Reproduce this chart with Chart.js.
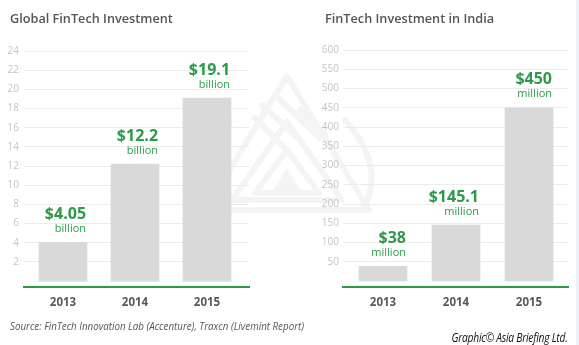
<!DOCTYPE html>
<html>
<head>
<meta charset="utf-8">
<script src="https://cdn.jsdelivr.net/npm/chart.js@4/dist/chart.umd.min.js"></script>
<style>
  html, body { margin: 0; padding: 0; background: #fff; }
  #page { position: relative; width: 579px; height: 345px; overflow: hidden; background: #fff; font-family: "Open Sans", sans-serif; }
  #mark { position: absolute; left: 0; top: 0; }
  .box { position: absolute; top: 40px; }
  .title { position: absolute; top: 9px; font-size: 12.7px; font-weight: 600; color: #555; white-space: nowrap; }
  .fit { position: absolute; white-space: nowrap; font-style: italic; }
  #source { left: 10px; top: 318px; font-size: 11px; color: #555; transform-origin: left center; }
  #credit { right: 12px; top: 329px; font-size: 12px; color: #111; transform-origin: right center; letter-spacing: -0.3px; }
  #edge { position: absolute; right: 0; top: 0; width: 3px; height: 345px; background: #eef0f8; }
</style>
</head>
<body>
<div id="page">
  <canvas id="mark" width="579" height="345"></canvas>
  <div class="title" style="left:10px">Global FinTech Investment</div>
  <div class="title" style="left:325px">FinTech Investment in India</div>
  <div class="box" style="left:0"><canvas id="global" width="252" height="280"></canvas></div>
  <div class="box" style="left:320px"><canvas id="india" width="251" height="280"></canvas></div>
  <div class="fit" id="source" data-w="294">Source: FinTech Innovation Lab (Accenture), Traxcn (Livemint Report)</div>
  <div class="fit" id="credit" data-w="116">Graphic© Asia Briefing Ltd.</div>
  <div id="edge"></div>
</div>
<script>
const years = ["2013", "2014", "2015"];
const globalValues = [4.05, 12.2, 19.1];
const indiaValues = [38, 145.1, 450];
const globalTicks = [2, 4, 6, 8, 10, 12, 14, 16, 18, 20, 22, 24];
const indiaTicks = [50, 100, 150, 200, 250, 300, 350, 400, 450, 500, 550, 600];

const GREEN = "#2b9b48";
const BAR = "#d9d9d9";

// faint logo behind both charts
function drawMark() {
    const ctx = document.getElementById("mark").getContext("2d");
    ctx.strokeStyle = "#f4f4f4";
    ctx.fillStyle = "#f4f4f4";
    ctx.lineWidth = 6;
    ctx.lineJoin = "round";
    ctx.lineCap = "round";
    const tri = (ax, ay, half, by) => {
        ctx.beginPath();
        ctx.moveTo(ax, ay);
        ctx.lineTo(ax - half, by);
        ctx.lineTo(ax + half, by);
        ctx.closePath();
        ctx.stroke();
    };
    tri(287, 76, 82, 210);
    tri(287, 122, 55, 200);
    tri(287, 150, 32, 193);
    ctx.beginPath();
    ctx.moveTo(287, 168);
    ctx.lineTo(272, 192);
    ctx.lineTo(302, 192);
    ctx.closePath();
    ctx.fill();
    // curved leaves on both sides
    ctx.beginPath();
    ctx.moveTo(230, 120);
    ctx.quadraticCurveTo(190, 165, 210, 205);
    ctx.stroke();
    ctx.beginPath();
    ctx.moveTo(345, 120);
    ctx.quadraticCurveTo(385, 165, 365, 205);
    ctx.stroke();
    // inner bars of the pattern
    [[262, 105, 300, 140], [255, 118, 285, 148], [275, 95, 320, 138], [300, 110, 325, 135]].forEach(s => {
        ctx.beginPath();
        ctx.moveTo(s[0], s[1]);
        ctx.lineTo(s[2], s[3]);
        ctx.stroke();
    });
}

const valueLabels = {
    id: "valueLabels",
    afterDatasetsDraw(chart) {
        const ctx = chart.ctx;
        const unit = chart.options.plugins.valueLabels.unit;
        const data = chart.data.datasets[0].data;
        chart.getDatasetMeta(0).data.forEach((bar, i) => {
            const right = bar.x + bar.width / 2 - 1;
            ctx.save();
            ctx.fillStyle = GREEN;
            ctx.textAlign = "right";
            ctx.textBaseline = "middle";
            ctx.font = 'bold 16px "Open Sans"';
            ctx.fillText("$" + data[i].y, right, bar.y - 28);
            ctx.font = '11px "Open Sans"';
            ctx.fillText(unit, right, bar.y - 13.5);
            ctx.restore();
        });
    }
};

function makeChart(id, values, unit, yTicks, cfg) {
    return new Chart(document.getElementById(id), {
        type: "bar",
        data: {
            datasets: [{
                data: values.map((v, i) => ({ x: i, y: v })),
                backgroundColor: BAR,
                barThickness: 48
            }]
        },
        options: {
            responsive: false,
            animation: false,
            layout: { padding: { top: 9, right: 3, left: 0, bottom: 0 } },
            plugins: {
                legend: { display: false },
                tooltip: { enabled: false },
                valueLabels: { unit: unit }
            },
            scales: {
                x: {
                    type: "linear",
                    offset: false,
                    min: cfg.xMin,
                    max: cfg.xMax,
                    afterBuildTicks: s => { s.ticks = years.map((_, i) => ({ value: i })); },
                    afterFit: s => { s.height = 33; },
                    grid: { color: "transparent", drawTicks: false, offset: false },
                    border: { color: GREEN, width: 2 },
                    ticks: {
                        callback: v => years[v],
                        color: "#595959",
                        font: { family: "Open Sans", size: 11.5, weight: "bold" },
                        padding: 9,
                        maxRotation: 0
                    }
                },
                y: {
                    min: cfg.yMin,
                    max: cfg.yMax,
                    afterBuildTicks: s => { s.ticks = yTicks.map(v => ({ value: v })); },
                    afterFit: s => { s.width = cfg.axisWidth; },
                    grid: { color: "#ebebeb", drawTicks: false },
                    border: { display: false },
                    ticks: {
                        color: "#c4c4c4",
                        font: { family: "Open Sans", size: 10 },
                        padding: cfg.pad
                    }
                }
            }
        },
        plugins: [valueLabels]
    });
}

drawMark();
makeChart("global", globalValues, "billion", globalTicks,
    { xMin: -0.542, xMax: 2.583, yMin: -0.62, yMax: 24, axisWidth: 24, pad: 5 });
makeChart("india", indiaValues, "million", indiaTicks,
    { xMin: -0.548, xMax: 2.534, yMin: -15.5, yMax: 600, axisWidth: 23, pad: 4 });

// condensed footer lines
document.querySelectorAll(".fit").forEach(el => {
    const w = el.getBoundingClientRect().width;
    el.style.transform = "scaleX(" + (Number(el.dataset.w) / w) + ")";
});
</script>
</body>
</html>
